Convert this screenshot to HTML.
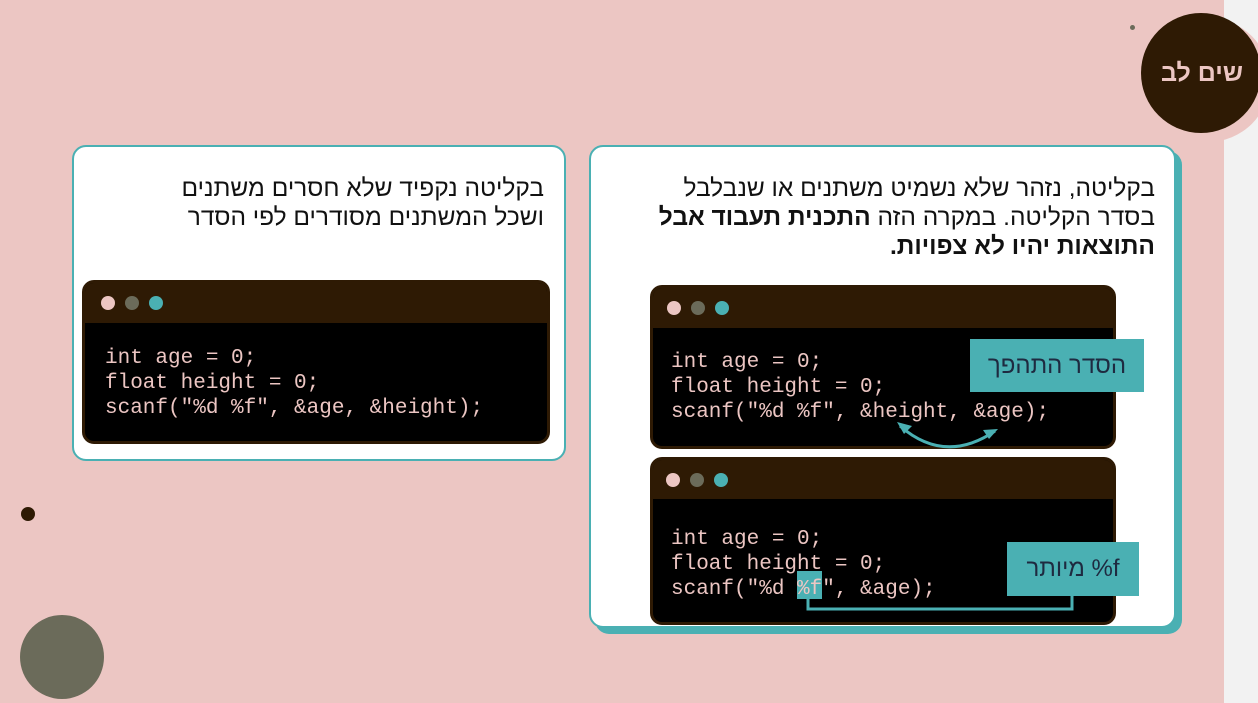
<!DOCTYPE html>
<html><head><meta charset="utf-8"><style>
body{margin:0;width:1258px;height:703px;overflow:hidden;background:#ecc6c3;position:relative;font-family:"Liberation Sans",sans-serif}
.abs{position:absolute}
.card{position:absolute;background:#fff;border:2px solid #4ab0b3;border-radius:14px;box-sizing:border-box}
.he{direction:rtl;text-align:right;color:#111;font-size:24.5px;line-height:29px;white-space:nowrap}
.win{position:absolute;background:#000;border:3px solid #2e1a04;border-radius:12px;box-sizing:border-box;overflow:hidden}
.hdr{background:#2e1a04;height:40px;position:relative}
.dot{position:absolute;top:13px;width:14px;height:14px;border-radius:50%}
.code{position:absolute;font-family:"Liberation Mono",monospace;font-size:21px;line-height:25px;color:#ecc6c3;white-space:pre}
.lab{position:absolute;background:#4ab0b3;color:#1e2a40;font-size:24px;display:flex;align-items:center;justify-content:center;direction:rtl}
</style></head><body>
<div class="abs" style="left:1224px;top:0;width:34px;height:703px;background:#f2f2f2"></div>
<div class="abs" style="left:1146px;top:18px;width:124px;height:124px;border-radius:50%;background:#ecc6c3"></div>
<div class="abs" style="left:1141px;top:13px;width:120px;height:120px;border-radius:50%;background:#2e1a04;color:#ecc6c3;font-weight:bold;font-size:25px;display:flex;align-items:center;justify-content:center;direction:rtl"><span style="margin-left:2px">שים לב</span></div>
<div class="abs" style="left:1130px;top:25px;width:5px;height:5px;border-radius:50%;background:#6b6b5a"></div>
<div class="abs" style="left:21px;top:507px;width:14px;height:14px;border-radius:50%;background:#2e1a04"></div>
<div class="abs" style="left:20px;top:615px;width:84px;height:84px;border-radius:50%;background:#6b6b5a"></div>

<div class="card" style="left:72px;top:145px;width:494px;height:316px">
 <div class="he abs" style="right:20px;top:27px;width:460px">בקליטה נקפיד שלא חסרים משתנים<br>ושכל המשתנים מסודרים לפי הסדר</div>
</div>
<div class="win" style="left:82px;top:280px;width:468px;height:164px">
 <div class="hdr"><div class="dot" style="left:16px;background:#ecc6c3"></div><div class="dot" style="left:40px;background:#6b6b5a"></div><div class="dot" style="left:64px;background:#4ab0b3"></div></div>
 <div class="code" style="left:20px;top:63px">int age = 0;
float height = 0;
scanf("%d %f", &amp;age, &amp;height);</div>
</div>

<div class="abs" style="left:595px;top:151px;width:587px;height:483px;background:#4ab0b3;border-radius:14px"></div>
<div class="card" style="left:589px;top:145px;width:587px;height:483px">
 <div class="he abs" style="right:19px;top:27px;width:560px">בקליטה, נזהר שלא נשמיט משתנים או שנבלבל<br>בסדר הקליטה. במקרה הזה <b>התכנית תעבוד אבל<br>התוצאות יהיו לא צפויות.</b></div>
</div>
<div class="win" style="left:650px;top:285px;width:466px;height:164px">
 <div class="hdr" style="height:40px"><div class="dot" style="left:14px;top:13px;background:#ecc6c3"></div><div class="dot" style="left:38px;top:13px;background:#6b6b5a"></div><div class="dot" style="left:62px;top:13px;background:#4ab0b3"></div></div>
 <div class="code" style="left:18px;top:62px">int age = 0;
float height = 0;
scanf("%d %f", &amp;height, &amp;age);</div>
</div>
<div class="win" style="left:650px;top:457px;width:466px;height:168px">
 <div class="hdr" style="height:39px"><div class="dot" style="left:13px;top:13px;background:#ecc6c3"></div><div class="dot" style="left:37px;top:13px;background:#6b6b5a"></div><div class="dot" style="left:61px;top:13px;background:#4ab0b3"></div></div>
 <div class="abs" style="left:144px;top:111px;width:25px;height:28px;background:#4ab0b3"></div>
 <div class="code" style="left:18px;top:67px">int age = 0;
float height = 0;
scanf("%d %f", &amp;age);</div>
</div>
<svg class="abs" style="left:0;top:0" width="1258" height="703">
 <path d="M900 426 Q945 465 995 431" fill="none" stroke="#4ab0b3" stroke-width="3"/>
 <path d="M897 422 L912 426 L904 434 Z" fill="#4ab0b3"/>
 <path d="M998 429 L983 430 L989 439 Z" fill="#4ab0b3"/>
 <path d="M808 597 L808 609 L1072 609 L1072 596" fill="none" stroke="#4ab0b3" stroke-width="3"/>
</svg>
<div class="lab" style="left:970px;top:339px;width:174px;height:53px">הסדר התהפך</div>
<div class="lab" style="left:1007px;top:542px;width:132px;height:54px">f% מיותר</div>
</body></html>
